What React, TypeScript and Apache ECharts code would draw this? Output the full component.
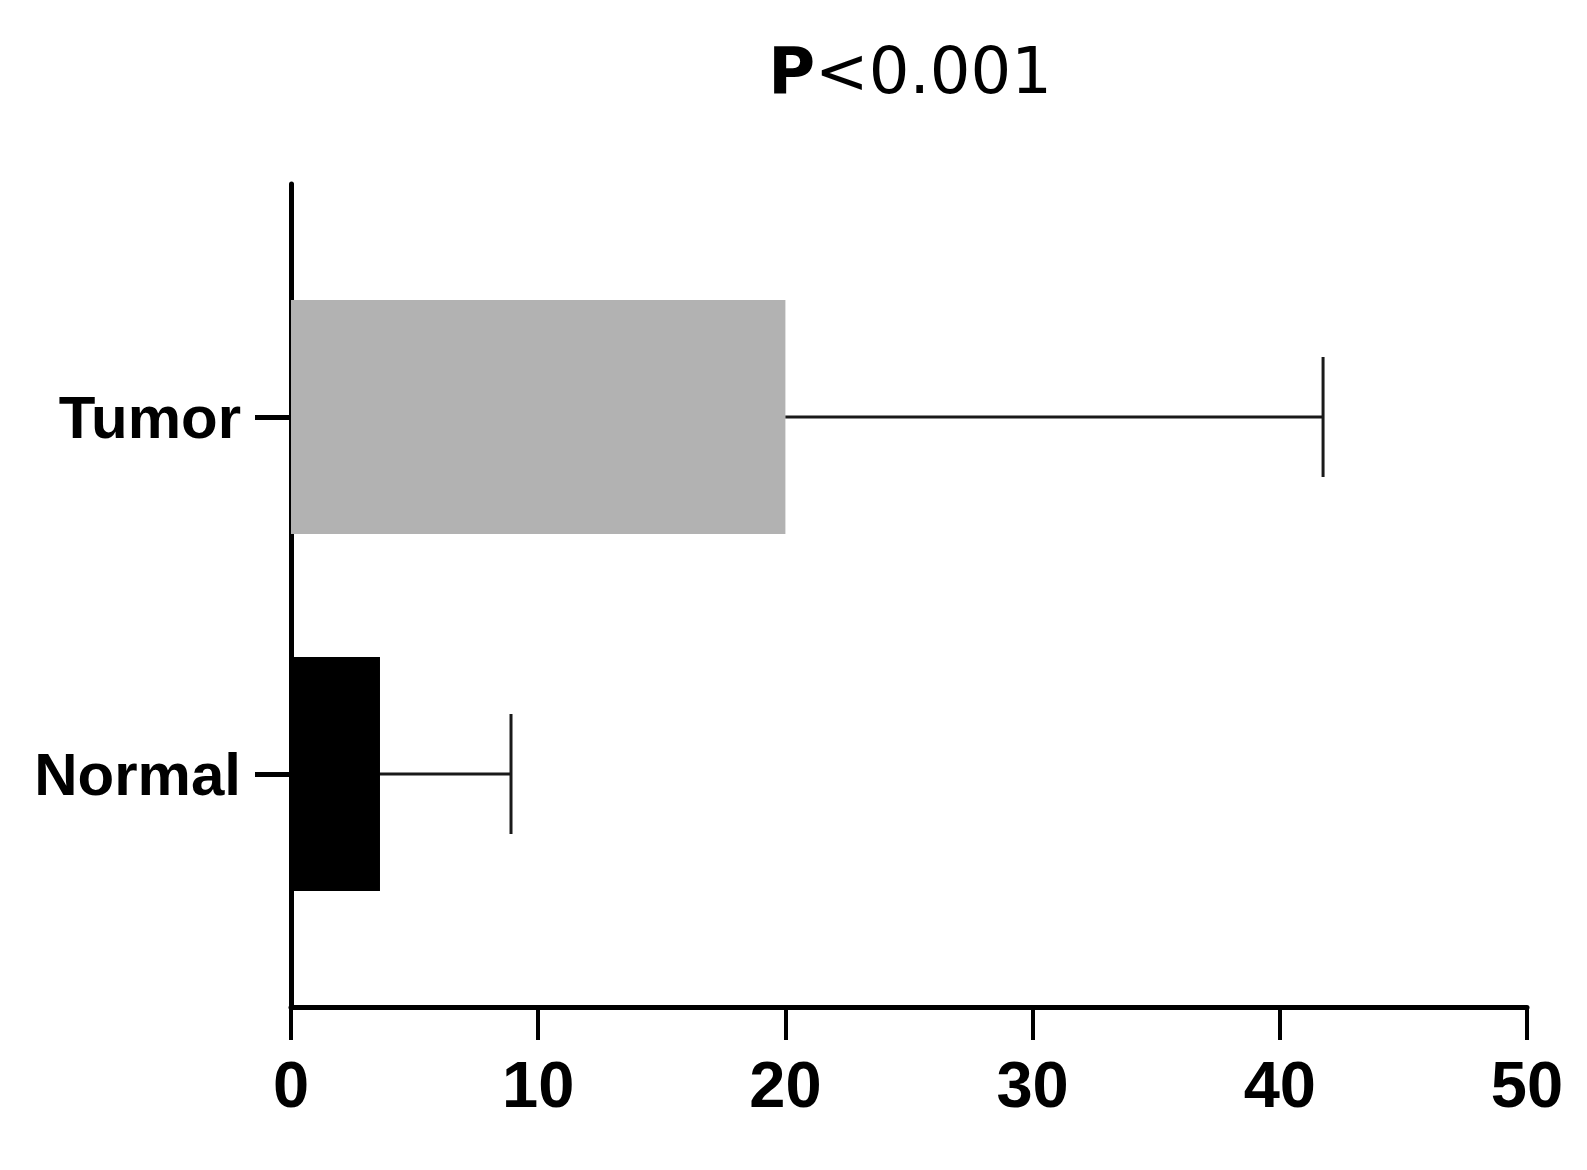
import React, { useEffect, useRef } from "react";
import * as echarts from "echarts";

const categories = ["Normal", "Tumor"];
const means = [3.6, 20.0];
const sds = [5.3, 21.75];
const barColors = ["#000000", "#b2b2b2"];
const xTicks = { min: 0, max: 50, interval: 10 };
const titleBold = "P";
const titleRest = "<0.001";

export default function App() {
  const ref = useRef<HTMLDivElement>(null);
  useEffect(() => {
    if (!ref.current) return;
    const chart = echarts.init(ref.current, null, { renderer: "svg" });
    const font = "'Liberation Sans', Arial, sans-serif";
    const option: any = {
      animation: false,
      backgroundColor: "#ffffff",
      title: {
        text: `{b|${titleBold}}{r|${titleRest}}`,
        left: 905,
        textAlign: "center",
        top: 34,
        textStyle: {
          rich: {
            b: { fontFamily: "'DejaVu Sans', sans-serif", fontSize: 64, fontWeight: "bold", color: "#000" },
            r: { fontFamily: "'DejaVu Sans', sans-serif", fontSize: 64, fontWeight: "normal", color: "#000" },
          },
        },
      },
      grid: [
        { left: 291, right: 60, top: 184, bottom: 163 },
        { left: 291, right: 60, top: 238.5, bottom: 217.5 },
      ],
      xAxis: [
        {
          gridIndex: 0,
          type: "value",
          min: xTicks.min,
          max: xTicks.max,
          interval: xTicks.interval,
          splitLine: { show: false },
          axisLine: { show: true, lineStyle: { color: "#000", width: 5 } },
          axisTick: { show: true, length: 33, lineStyle: { color: "#000", width: 4 } },
          axisLabel: {
            margin: 45,
            fontFamily: font,
            fontSize: 65,
            fontWeight: "bold",
            color: "#000",
          },
        },
        {
          gridIndex: 1,
          type: "value",
          min: xTicks.min,
          max: xTicks.max,
          show: false,
        },
      ],
      yAxis: [
        {
          gridIndex: 0,
          type: "value",
          min: 0,
          max: 1,
          splitLine: { show: false },
          axisLine: { show: true, lineStyle: { color: "#000", width: 5 } },
          axisTick: { show: false },
          axisLabel: { show: false },
        },
        {
          gridIndex: 1,
          type: "category",
          data: categories,
          axisLine: { show: false },
          axisTick: { show: true, alignWithLabel: true, length: 36, lineStyle: { color: "#000", width: 5 } },
          axisLabel: {
            margin: 50,
            fontFamily: font,
            fontSize: 60,
            fontWeight: "bold",
            color: "#000",
          },
          splitLine: { show: false },
        },
      ],
      series: [
        {
          type: "bar",
          xAxisIndex: 1,
          yAxisIndex: 1,
          barWidth: 234,
          data: means.map((v, i) => ({ value: v, itemStyle: { color: barColors[i] } })),
          z: 1,
        },
        {
          type: "custom",
          xAxisIndex: 1,
          yAxisIndex: 1,
          data: means.map((m, i) => [i, m, m + sds[i]]),
          encode: { y: 0, x: [1, 2] },
          renderItem: (params: any, api: any) => {
            const ci = api.value(0);
            const start = api.coord([api.value(1), ci]);
            const end = api.coord([api.value(2), ci]);
            const half = 60;
            const style = { stroke: "#1a1a1a", lineWidth: 3 };
            return {
              type: "group",
              children: [
                { type: "line", shape: { x1: start[0], y1: start[1], x2: end[0], y2: end[1] }, style },
                { type: "line", shape: { x1: end[0], y1: end[1] - half, x2: end[0], y2: end[1] + half }, style },
              ],
            };
          },
          z: 2,
        },
      ],
    };
    chart.setOption(option);
    return () => chart.dispose();
  }, []);
  return (
    <div
      ref={ref}
      style={{ position: "fixed", left: 0, top: 0, width: 1587, height: 1170, background: "#fff" }}
    />
  );
}
